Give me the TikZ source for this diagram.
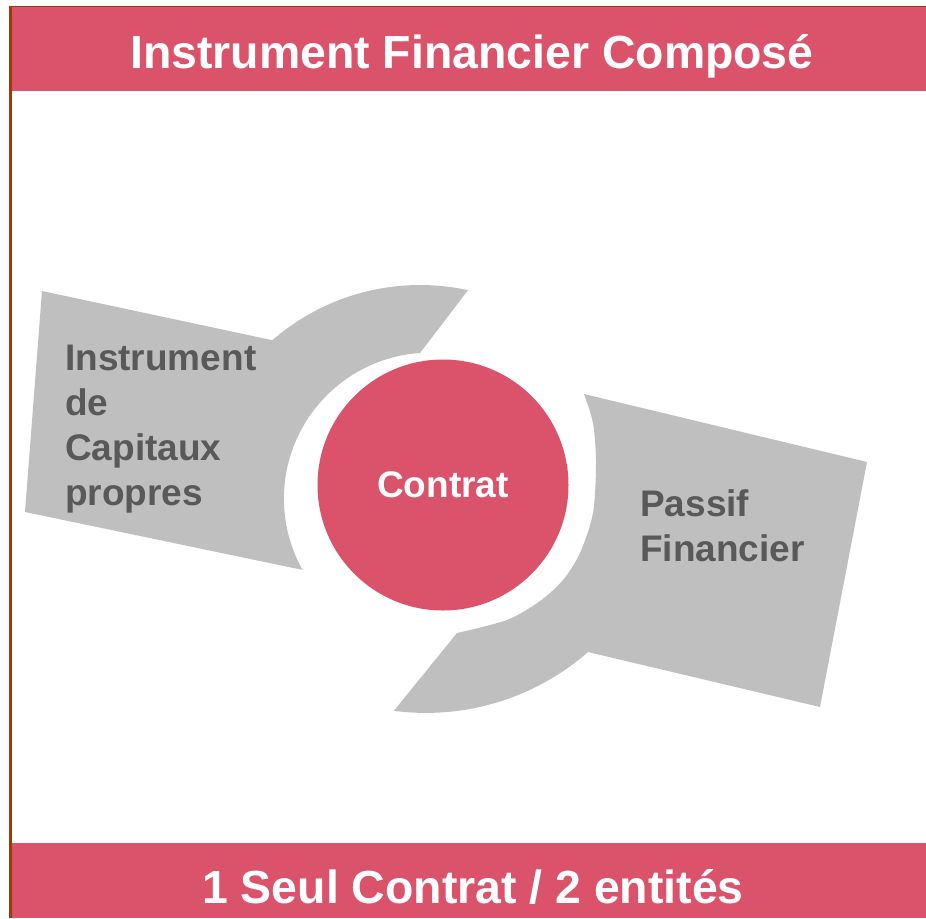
\documentclass[tikz,border=0pt]{standalone}
\usepackage{fontspec}
\setmainfont{Liberation Sans}
\definecolor{pinkc}{HTML}{DA536B}
\definecolor{grayc}{HTML}{BFBFBF}
\definecolor{textgray}{HTML}{595959}
\definecolor{brownc}{HTML}{9E3A06}
\begin{document}
\begin{tikzpicture}[x=1pt,y=-1pt,
  banner/.style={fill=pinkc, draw=none},
  grayshape/.style={fill=grayc, draw=none},
  titletext/.style={text=white, font=\bfseries\fontsize{46.4}{55}\selectfont, anchor=base, inner sep=0pt},
  labeltext/.style={text=textgray, font=\bfseries\fontsize{37}{45}\selectfont, align=left, anchor=west, inner sep=0pt},
  hub/.style={circle, fill=pinkc, draw=none, minimum size=251pt, inner sep=0pt, text=white, font=\bfseries\fontsize{37}{45}\selectfont}]
\useasboundingbox (0,0) rectangle (926,918);
\fill[white] (0,0) rectangle (926,918);
% banners
\path[banner] (11.5,7) rectangle (926,91);
\path[banner] (11.5,843) rectangle (926,918);
% frame
\draw[brownc, line width=3pt] (10,918) -- (10,7);
\draw[brownc, line width=1.2pt] (8.5,6.6) -- (926,6.6);
% left grey arrow
\path[grayshape] (42,291) -- (272.4,340.2)
  arc[start angle=-131, end angle=-77.7, radius=225]
  -- (420,353)
  arc[start angle=-93.9, end angle=-209.2, radius=146]
  -- (25,512) -- cycle;
% right grey arrow
\path[grayshape] (584,394) -- (867,462) -- (820,707) -- (588,652)
  arc[start angle=48.8, end angle=97.5, radius=246]
  -- (457,633)
  -- plot[smooth, tension=0.5] coordinates {(457,633) (507,620) (540,601) (563,580) (580,553) (593,513) (596,463) (593,423) (584,394)}
  -- cycle;
% centre
\node[hub] (contrat) at (443,485) {Contrat};
% labels
\node[labeltext] (leftlabel) at (65,429) {Instrument\\de\\Capitaux\\propres};
\node[labeltext] (rightlabel) at (640,526) {Passif\\Financier};
\node[titletext] (title) at (472,68) {Instrument Financier Composé};
\node[titletext] (footer) at (473,903) {1 Seul Contrat / 2 entités};
\end{tikzpicture}
\end{document}
